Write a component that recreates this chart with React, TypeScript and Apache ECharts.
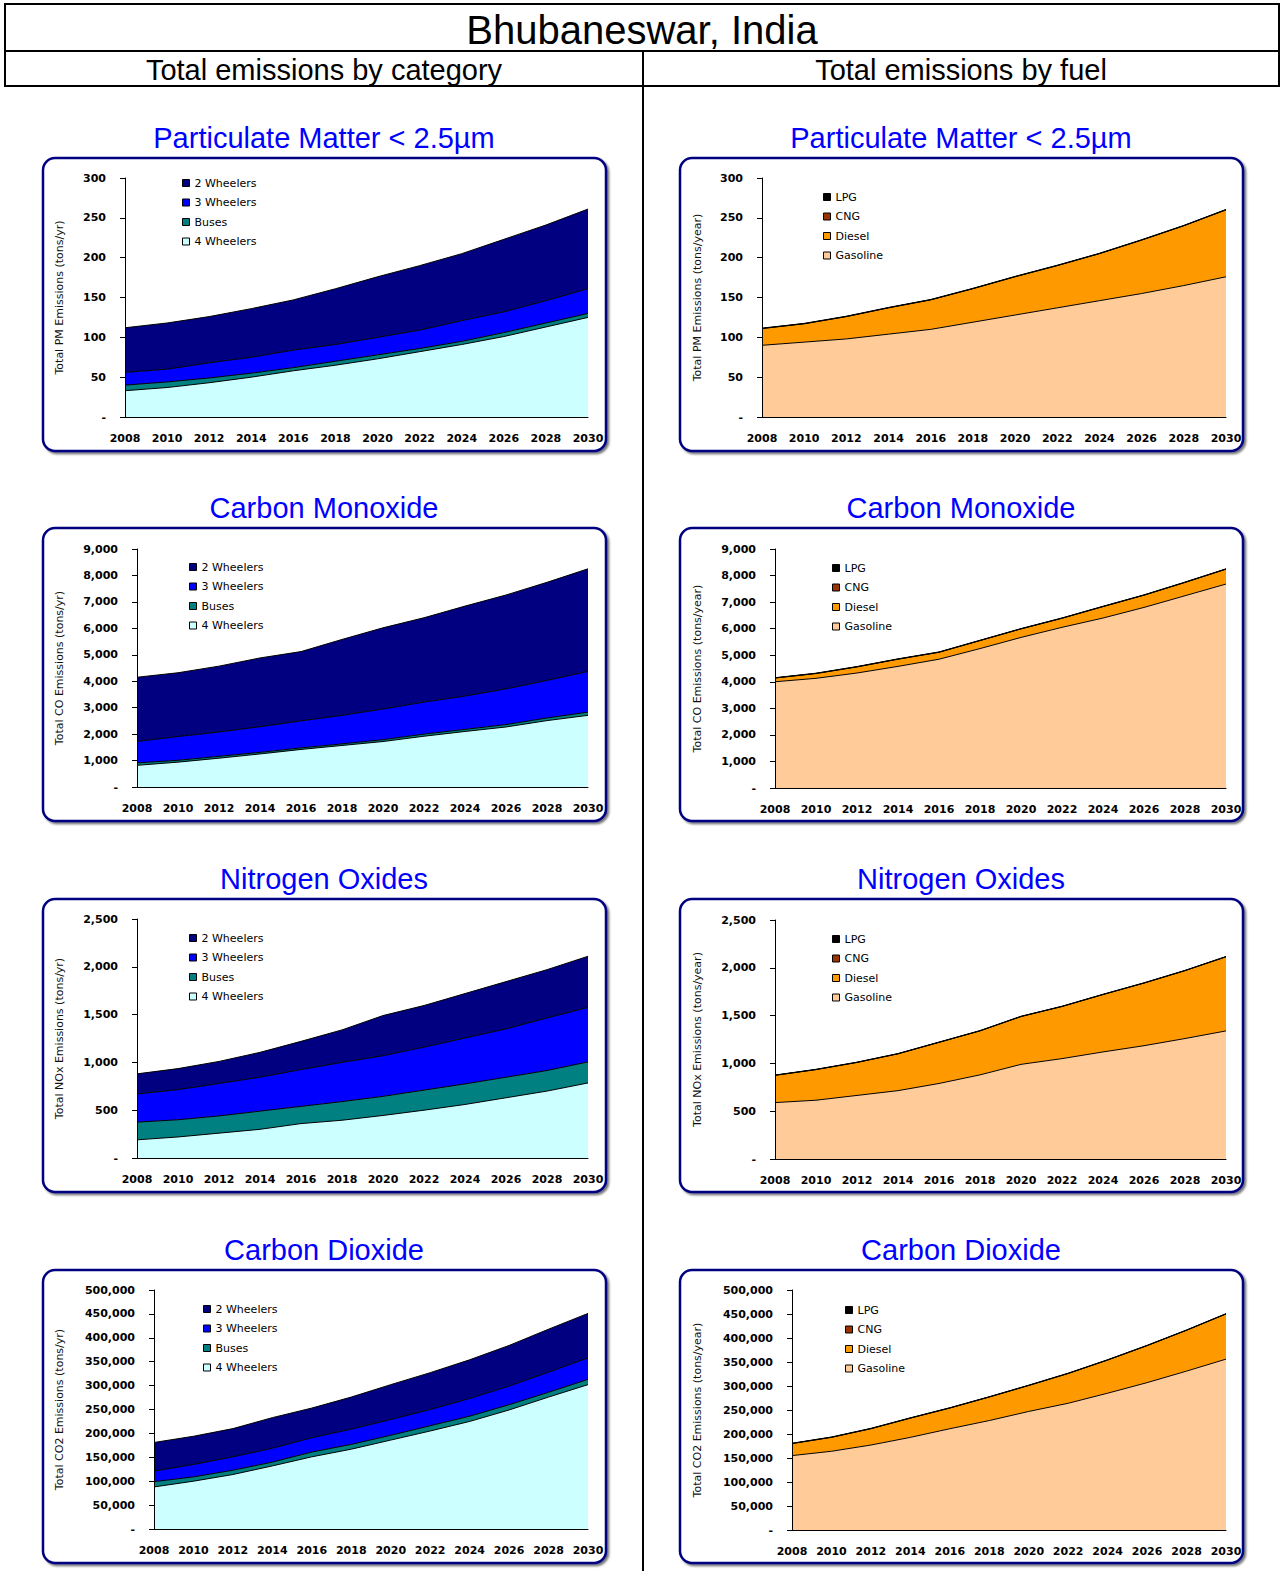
import React, { useEffect, useRef } from 'react';
import * as echarts from 'echarts';

// ---------- DATA ----------
const years = ['2008', '2010', '2012', '2014', '2016', '2018', '2020', '2022', '2024', '2026', '2028', '2030'];

const categoryNames = ['2 Wheelers', '3 Wheelers', 'Buses', '4 Wheelers'];
const fuelNames = ['LPG', 'CNG', 'Diesel', 'Gasoline'];

// Particulate Matter < 2.5um (tons/yr)
const pm2W = [56, 58, 58, 61, 63, 70, 76, 81, 84, 91, 95, 100];
const pm3W = [16, 16, 19, 20, 22, 21, 22, 23, 26, 26, 28, 31];
const pmBus = [7, 7, 6, 5, 4, 5, 5, 4, 4, 5, 5, 5];
const pm4W = [33, 37, 43, 50, 58, 65, 73, 82, 91, 101, 113, 125];
const pmLPG = [0.3, 0.3, 0.3, 0.3, 0.3, 0.3, 0.3, 0.3, 0.3, 0.3, 0.3, 0.3];
const pmCNG = [0.2, 0.2, 0.2, 0.2, 0.2, 0.2, 0.2, 0.2, 0.2, 0.2, 0.2, 0.2];
const pmDiesel = [21, 23, 28, 33, 37, 42, 48, 53, 59, 67, 75, 84];
const pmGasoline = [90, 94, 98, 104, 110, 119, 128, 137, 146, 155, 165, 176];

// Carbon Monoxide (tons/yr)
const co2Wh = [2430, 2410, 2490, 2600, 2620, 2870, 3070, 3190, 3400, 3550, 3710, 3880];
const co3Wh = [810, 900, 920, 970, 1020, 1080, 1160, 1210, 1260, 1350, 1420, 1540];
const coBus = [90, 70, 70, 60, 60, 60, 70, 80, 80, 90, 100, 120];
const co4Wh = [820, 940, 1090, 1250, 1420, 1570, 1720, 1920, 2100, 2270, 2510, 2710];
const coLPG = [8, 8, 8, 8, 8, 8, 8, 8, 8, 8, 8, 8];
const coCNG = [5, 5, 5, 5, 5, 5, 5, 5, 5, 5, 5, 5];
const coDiesel = [140, 180, 230, 270, 260, 300, 320, 340, 430, 460, 500, 560];
const coGasoline = [4000, 4130, 4330, 4580, 4850, 5250, 5670, 6050, 6400, 6800, 7240, 7680];

// Nitrogen Oxides (tons/yr)
const nox2W = [210, 220, 230, 260, 295, 340, 420, 435, 465, 495, 505, 535];
const nox3W = [295, 315, 340, 355, 385, 410, 425, 450, 480, 505, 550, 570];
const noxBus = [185, 180, 180, 190, 180, 195, 200, 210, 215, 215, 215, 220];
const nox4W = [190, 220, 260, 300, 360, 395, 445, 500, 560, 630, 700, 785];
const noxLPG = [2, 2, 2, 2, 2, 2, 2, 2, 2, 2, 2, 2];
const noxCNG = [1, 1, 1, 1, 1, 1, 1, 1, 1, 1, 1, 1];
const noxDiesel = [285, 320, 345, 385, 430, 460, 500, 545, 600, 655, 710, 775];
const noxGasoline = [590, 615, 665, 715, 790, 880, 990, 1050, 1120, 1185, 1260, 1340];

// Carbon Dioxide (tons/yr)
const cd2W = [60000, 59000, 59000, 64000, 62000, 67000, 73000, 77000, 81000, 85000, 90000, 93000];
const cd3W = [22000, 26000, 28000, 29000, 30000, 32000, 33000, 34000, 37000, 39000, 42000, 45000];
const cdBus = [11000, 9000, 9000, 8000, 10000, 10000, 10000, 11000, 11000, 11000, 10000, 11000];
const cd4W = [88000, 100000, 114000, 132000, 151000, 167000, 186000, 205000, 225000, 249000, 276000, 302000];
const cdLPG = [400, 400, 400, 400, 400, 400, 400, 400, 400, 400, 400, 400];
const cdCNG = [300, 300, 300, 300, 300, 300, 300, 300, 300, 300, 300, 300];
const cdDiesel = [25000, 29000, 34000, 40000, 43000, 49000, 54000, 62000, 69000, 77000, 85000, 94000];
const cdGasoline = [155000, 164000, 177000, 193000, 211000, 228000, 247000, 264000, 285000, 307000, 331000, 356000];

// Header texts
const pageTitle = 'Bhubaneswar, India';
const columnTitles = ['Total emissions by category', 'Total emissions by fuel'];
const pollutantTitles = ['Particulate Matter < 2.5\u00b5m', 'Carbon Monoxide', 'Nitrogen Oxides', 'Carbon Dioxide'];
const catAxisNames = [
  'Total PM Emissions (tons/yr)',
  'Total CO Emissions (tons/yr)',
  'Total NOx Emissions (tons/yr)',
  'Total CO2 Emissions (tons/yr)',
];
const fuelAxisNames = [
  'Total PM Emissions (tons/year)',
  'Total CO Emissions (tons/year)',
  'Total NOx Emissions (tons/year)',
  'Total CO2 Emissions (tons/year)',
];
const yMaxes = [300, 9000, 2500, 500000];
const yIntervals = [50, 1000, 500, 50000];

// series data, keyed by legend name
const catData = [
  { '2 Wheelers': pm2W, '3 Wheelers': pm3W, Buses: pmBus, '4 Wheelers': pm4W },
  { '2 Wheelers': co2Wh, '3 Wheelers': co3Wh, Buses: coBus, '4 Wheelers': co4Wh },
  { '2 Wheelers': nox2W, '3 Wheelers': nox3W, Buses: noxBus, '4 Wheelers': nox4W },
  { '2 Wheelers': cd2W, '3 Wheelers': cd3W, Buses: cdBus, '4 Wheelers': cd4W },
];
const fuelData = [
  { LPG: pmLPG, CNG: pmCNG, Diesel: pmDiesel, Gasoline: pmGasoline },
  { LPG: coLPG, CNG: coCNG, Diesel: coDiesel, Gasoline: coGasoline },
  { LPG: noxLPG, CNG: noxCNG, Diesel: noxDiesel, Gasoline: noxGasoline },
  { LPG: cdLPG, CNG: cdCNG, Diesel: cdDiesel, Gasoline: cdGasoline },
];

// ---------- STYLE / LAYOUT ----------
const COLORS: Record<string, string> = {
  '2 Wheelers': '#000080',
  '3 Wheelers': '#0000FF',
  Buses: '#008080',
  '4 Wheelers': '#CCFFFF',
  LPG: '#000000',
  CNG: '#993300',
  Diesel: '#FF9900',
  Gasoline: '#FFCC99',
};

const FONT = '"DejaVu Sans", Verdana, sans-serif';
const TITLE_FONT = '"Liberation Sans", Arial, sans-serif';

const rowBoxY = [158, 528, 899, 1270];
const rowTitleY = [137, 507, 878, 1249];
const colBoxX = [43, 680];
const colCenterX = [324, 961];

const gridLayout = [
  [{ left: 125, top: 178, width: 463, height: 239 }, { left: 762, top: 178, width: 464, height: 239 }],
  [{ left: 137, top: 549, width: 451, height: 238 }, { left: 775, top: 549, width: 451, height: 239 }],
  [{ left: 137, top: 919, width: 451, height: 239 }, { left: 775, top: 920, width: 451, height: 239 }],
  [{ left: 154, top: 1290, width: 434, height: 239 }, { left: 792, top: 1290, width: 434, height: 240 }],
];
const legendLayout = [
  [{ left: 182, top: 177 }, { left: 823, top: 191 }],
  [{ left: 189, top: 561 }, { left: 832, top: 562 }],
  [{ left: 189, top: 932 }, { left: 832, top: 933 }],
  [{ left: 203, top: 1303 }, { left: 845, top: 1304 }],
];
const nameGaps = [
  [60, 59],
  [72, 72],
  [72, 72],
  [89, 89],
];

function fmt(v: number) {
  if (v === 0) return '-';
  return v.toLocaleString('en-US');
}

function buildOption() {
  const grid: any[] = [];
  const xAxis: any[] = [];
  const yAxis: any[] = [];
  const legend: any[] = [];
  const series: any[] = [];
  const graphic: any[] = [];

  graphic.push({
    type: 'rect',
    z: -20,
    shape: { x: 5, y: 4, width: 1274, height: 82 },
    style: { fill: 'none', stroke: '#000', lineWidth: 2 },
  });
  graphic.push({
    type: 'line',
    z: -20,
    shape: { x1: 5, y1: 51, x2: 1279, y2: 51 },
    style: { stroke: '#000', lineWidth: 2 },
  });
  graphic.push({
    type: 'line',
    z: -20,
    shape: { x1: 643, y1: 51, x2: 643, y2: 1571 },
    style: { stroke: '#000', lineWidth: 2 },
  });
  graphic.push({
    type: 'text',
    x: 642,
    y: 30,
    style: {
      text: pageTitle,
      fontSize: 40,
      fontFamily: TITLE_FONT,
      fill: '#000',
      align: 'center',
      verticalAlign: 'middle',
    },
  });
  columnTitles.forEach((t, c) => {
    graphic.push({
      type: 'text',
      x: colCenterX[c],
      y: 70,
      style: {
        text: t,
        fontSize: 29,
        fontFamily: TITLE_FONT,
        fill: '#000',
        align: 'center',
        verticalAlign: 'middle',
      },
    });
  });

  let idx = 0;
  for (let r = 0; r < 4; r++) {
    for (let c = 0; c < 2; c++) {
      graphic.push({
        type: 'rect',
        z: -10,
        shape: { x: colBoxX[c], y: rowBoxY[r], width: 563, height: 293, r: 12 },
        style: {
          fill: '#fff',
          stroke: '#000080',
          lineWidth: 2.5,
          shadowBlur: 2,
          shadowOffsetX: 2,
          shadowOffsetY: 2,
          shadowColor: 'rgba(0,0,0,0.55)',
        },
      });
      graphic.push({
        type: 'text',
        x: colCenterX[c],
        y: rowTitleY[r] + 1,
        style: {
          text: pollutantTitles[r],
          fontSize: 29,
          fontFamily: TITLE_FONT,
          fill: '#0000FF',
          align: 'center',
          verticalAlign: 'middle',
        },
      });

      grid.push({ ...gridLayout[r][c], containLabel: false });
      xAxis.push({
        type: 'category',
        gridIndex: idx,
        data: years,
        boundaryGap: false,
        z: 5,
        axisLine: { show: true, lineStyle: { color: '#000', width: 1 } },
        axisTick: { show: false },
        axisLabel: {
          margin: 16,
          fontSize: 11,
          fontWeight: 'bold',
          fontFamily: FONT,
          color: '#000',
          interval: 0,
        },
        splitLine: { show: false },
      });
      yAxis.push({
        type: 'value',
        gridIndex: idx,
        min: 0,
        max: yMaxes[r],
        interval: yIntervals[r],
        z: 5,
        name: c === 0 ? catAxisNames[r] : fuelAxisNames[r],
        nameLocation: 'middle',
        nameRotate: 90,
        nameGap: nameGaps[r][c],
        nameTextStyle: { fontSize: 11, fontFamily: FONT, color: '#111' },
        axisLine: { show: true, lineStyle: { color: '#000', width: 1 } },
        axisTick: { show: true, inside: false, length: 5, lineStyle: { color: '#000' } },
        axisLabel: {
          margin: 19,
          fontSize: 11,
          fontWeight: 'bold',
          fontFamily: FONT,
          color: '#000',
          formatter: fmt,
        },
        splitLine: { show: false },
      });

      const names = c === 0 ? categoryNames : fuelNames;
      const dataMap: any = c === 0 ? catData[r] : fuelData[r];
      legend.push({
        orient: 'vertical',
        left: legendLayout[r][c].left,
        top: legendLayout[r][c].top,
        padding: 0,
        itemGap: 7.5,
        itemWidth: 7,
        itemHeight: 7,
        icon: 'rect',
        selectedMode: false,
        textStyle: { fontSize: 11, fontFamily: FONT, color: '#000', lineHeight: 12 },
        data: names.map((n) => ({
          name: n,
          itemStyle: { color: COLORS[n], borderColor: '#000', borderWidth: 1 },
        })),
      });

      const stackOrder = [...names].reverse();
      stackOrder.forEach((n) => {
        series.push({
          type: 'line',
          name: n,
          xAxisIndex: idx,
          yAxisIndex: idx,
          stack: 'stack' + idx,
          data: dataMap[n],
          showSymbol: false,
          symbol: 'none',
          smooth: false,
          color: COLORS[n],
          lineStyle: { color: '#000', width: 1 },
          areaStyle: { color: COLORS[n], opacity: 1 },
          itemStyle: { color: COLORS[n] },
          emphasis: { disabled: true },
          silent: true,
        });
      });

      idx++;
    }
  }

  return {
    animation: false,
    backgroundColor: '#fff',
    grid,
    xAxis,
    yAxis,
    legend,
    series,
    graphic,
  };
}

export default function App() {
  const ref = useRef<HTMLDivElement>(null);
  useEffect(() => {
    document.body.style.margin = '0';
    const chart = echarts.init(ref.current!, null, { renderer: 'svg' });
    chart.setOption(buildOption() as any);
    return () => chart.dispose();
  }, []);
  return <div ref={ref} style={{ width: 1282, height: 1571 }} />;
}
